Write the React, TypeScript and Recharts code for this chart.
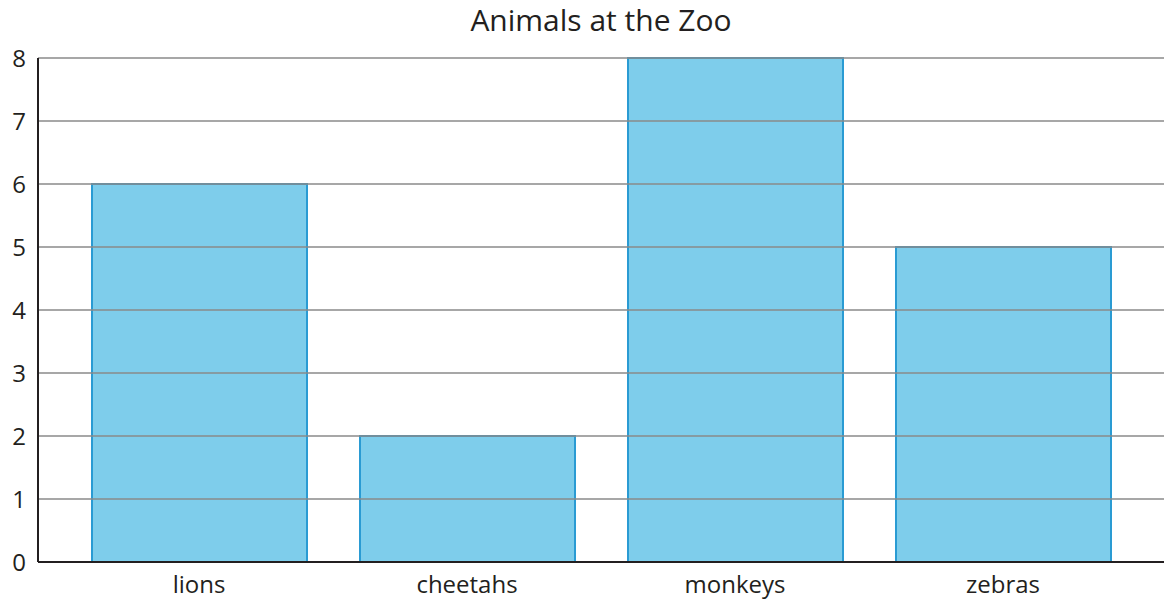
import React from 'react';
import { BarChart, Bar, XAxis, YAxis, ReferenceLine } from 'recharts';

const categories = ['lions', 'cheetahs', 'monkeys', 'zebras'];
const counts = [6, 2, 8, 5];
const yTicks = [0, 1, 2, 3, 4, 5, 6, 7, 8];
const gridValues = [1, 2, 3, 4, 5, 6, 7, 8];
const title = 'Animals at the Zoo';

const data = categories.map((name, i) => ({ name, value: counts[i] }));

const FONT = '"Open Sans", sans-serif';

export default function App() {
  return (
    <div style={{ position: 'absolute', left: 0, top: 0, width: 1164, height: 600, background: '#fff', fontFamily: FONT }}>
      <div style={{ position: 'absolute', left: 38, top: 0, width: 1126, textAlign: 'center', fontSize: 30, lineHeight: '40px', color: '#231f20' }}>
        {title}
      </div>
      <BarChart width={1164} height={600} data={data} margin={{ top: 58, right: 0, bottom: 0, left: 0 }} barSize={215}>
        <XAxis
          dataKey="name"
          height={38}
          tickLine={false}
          tickMargin={8}
          padding={{ left: 27, right: 27 }}
          axisLine={{ stroke: '#231f20', strokeWidth: 2 }}
          tick={{ fill: '#231f20', fontSize: 24, fontFamily: FONT }}
        />
        <YAxis
          width={38}
          domain={[0, 8]}
          ticks={yTicks}
          tickLine={false}
          tickMargin={6}
          axisLine={{ stroke: '#231f20', strokeWidth: 2 }}
          tick={{ fill: '#231f20', fontSize: 24, fontFamily: FONT }}
          interval={0}
        />
        <Bar dataKey="value" fill="#7ecdeb" stroke="#2a9bd3" strokeWidth={2} isAnimationActive={false} />
        {gridValues.map((v) => (
          <ReferenceLine key={v} y={v} stroke="#8a8a8a" strokeWidth={1.5} />
        ))}
      </BarChart>
    </div>
  );
}
